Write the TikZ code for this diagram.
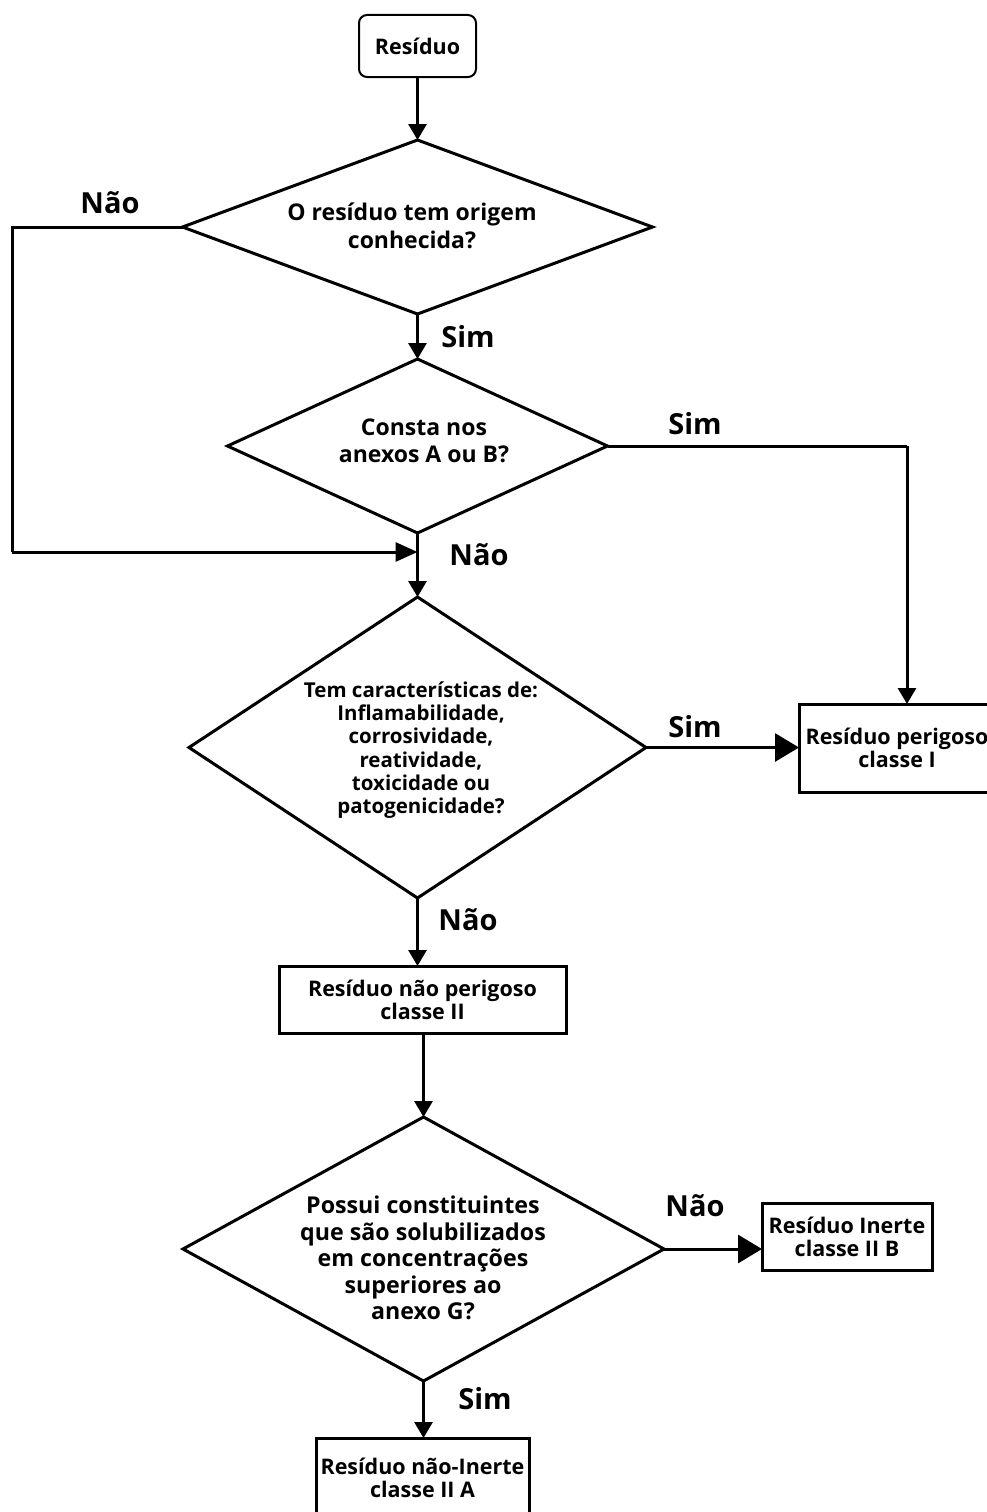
\documentclass[tikz,border=0pt]{standalone}
\usepackage{fontspec}
\setmainfont{Open Sans}
\usetikzlibrary{shapes.geometric,arrows.meta}
\begin{document}
\begin{tikzpicture}[x=1pt,y=-1pt,
  line width=3pt,
  dia/.style={diamond, draw, line width=3pt, inner sep=0pt, outer sep=0pt},
  boxn/.style={rectangle, draw, line width=3pt, inner sep=0pt, outer sep=0pt, align=center,
    font=\fontsize{21.5}{23}\selectfont\bfseries},
  startbox/.style={rectangle, rounded corners=8pt, draw, line width=2pt, inner sep=0pt,
    minimum width=117pt, minimum height=62pt, font=\fontsize{21.5}{23}\selectfont\bfseries},
  dtext/.style n args={2}{align=center, inner sep=0pt, font=\fontsize{#1}{#2}\selectfont\bfseries},
  lab/.style={inner sep=0pt, font=\fontsize{29}{30}\selectfont\bfseries},
  arr/.style={-{Triangle[length=16pt,width=18pt]}},
  arrh/.style={-{Triangle[length=22pt,width=19pt]}},
  bigarr/.style={-{Triangle[length=24pt,width=28pt]}}
]
\useasboundingbox (0,0) rectangle (987,1512);

% start
\node[startbox] (start) at (417.5,46) {Resíduo};

% diamonds
\node[dia, minimum width=470pt, minimum height=174pt] (d1) at (417.5,227) {};
\node[dtext={23}{28}] (t1) at (412,226) {O resíduo tem origem\\conhecida?};

\node[dia, minimum width=380pt, minimum height=174pt] (d2) at (417.5,446) {};
\node[dtext={23}{27}] (t2) at (424,441) {Consta nos\\anexos A ou B?};

\node[dia, minimum width=457pt, minimum height=301pt] (d3) at (417.5,747.5) {};
\node[dtext={20.5}{23.3}] (t3) at (421,750) {Tem características de:\\Inflamabilidade,\\corrosividade,\\reatividade,\\toxicidade ou\\patogenicidade?};

\node[dia, minimum width=481pt, minimum height=264pt] (d4) at (423.5,1249) {};
\node[dtext={23.2}{26.5}] (t4) at (423,1258) {Possui constituintes\\que são solubilizados\\em concentrações\\superiores ao\\anexo G?};

% boxes
\node[boxn, minimum width=196pt, minimum height=88pt] (b1) at (897,748) {Resíduo perigoso\\classe I};
\node[boxn, minimum width=287pt, minimum height=67pt] (b2) at (422.5,999.5) {Resíduo não perigoso\\classe II};
\node[boxn, minimum width=170pt, minimum height=67pt] (b3) at (847,1236.5) {Resíduo Inerte\\classe II B};
\node[boxn, minimum width=213pt, minimum height=80pt] (b4) at (422.5,1478) {Resíduo não-Inerte\\classe II A};

% helper coordinates
\coordinate (c1) at (12,227);
\coordinate (c2) at (12,552);
\coordinate (c3) at (417.5,552);
\coordinate (c4) at (907,446);

% connectors
\draw[arr] (start.south) -- (d1.north);
\draw (d1.west) -- (c1) -- (c2);
\draw[arrh] (c2) -- (c3);
\draw[arr] (d1.south) -- (d2.north);
\draw (d2.east) -- (c4);
\draw[arr] (c4) -- (c4 |- b1.north);
\draw[arr] (d2.south) -- (d3.north);
\draw[bigarr] (d3.east) -- (d3.east -| b1.west);
\draw[arr] (d3.south) -- (d3.south |- b2.north);
\draw[arr] (b2.south -| d4.north) -- (d4.north);
\draw[bigarr] (d4.east) -- (d4.east -| b3.west);
\draw[arr] (d4.south) -- (d4.south |- b4.north);

% labels
\node[lab] (l1) at (110,203) {Não};
\node[lab] (l2) at (468,337) {Sim};
\node[lab] (l3) at (695,424) {Sim};
\node[lab] (l4) at (479,555) {Não};
\node[lab] (l5) at (695,727) {Sim};
\node[lab] (l6) at (468,920) {Não};
\node[lab] (l7) at (695,1206) {Não};
\node[lab] (l8) at (485,1399) {Sim};
\end{tikzpicture}
\end{document}
